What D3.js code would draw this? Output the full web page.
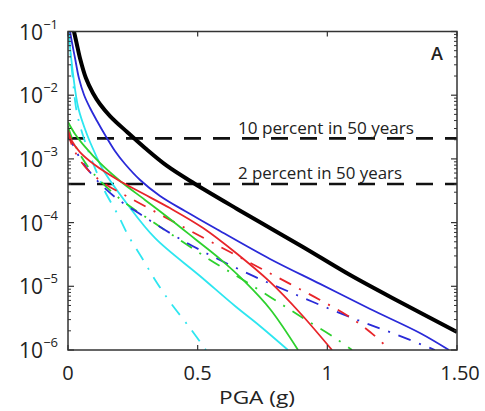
<!DOCTYPE html>
<html><head><meta charset="utf-8">
<script src="https://cdn.jsdelivr.net/npm/d3@7"></script>
<style>
html,body{margin:0;padding:0;background:#fff;}
svg{display:block;}
text{font-family:"Open Sans","Noto Sans",sans-serif;fill:#222;}
</style></head>
<body><svg id="c" width="485" height="411"></svg>
<script>
// ---- data (PGA in g, annual exceedance probability) ----
const blackX = [0.023,0.033,0.046,0.069,0.096,0.123,0.162,0.228,0.297,0.382,0.490,0.652,0.779,0.906,1.088,1.280,1.5];
const blackY = [0.1,0.066,0.0384,0.0186,0.01084,0.00728,0.00471,0.00264,0.00148,7.74e-4,4.04e-4,1.64e-4,8.22e-5,4.14e-5,1.50e-5,5.66e-6,1.92e-6];

const blueX = [0.008,0.015,0.027,0.042,0.062,0.085,0.112,0.143,0.181,0.220,0.278,0.355,0.451,0.586,0.779,0.972,1.165,1.357,1.469];
const blueY = [0.1,0.0684,0.0384,0.0186,0.01007,0.0063,0.00394,0.00237,0.00133,8.32e-4,4.67e-4,2.62e-4,1.52e-4,7.38e-5,2.69e-5,1.09e-5,4.40e-6,1.85e-6,1e-6];

const cyanX = [0.002,0.020,0.040,0.074,0.113,0.131,0.231,0.336,0.509,0.644,0.740,0.848];
const cyanY = [0.1,0.0207,0.00622,0.00237,0.00102,7.2e-4,1.89e-4,5.7e-5,1.45e-5,4.9e-6,2.38e-6,1e-6];

const cyanDashX = [0.002,0.017,0.036,0.077,0.126,0.143,0.193,0.231,0.290,0.336,0.393,0.470,0.532];
const cyanDashY = [0.1,0.0207,0.00489,0.00138,4.4e-4,3.05e-4,1.31e-4,6.4e-5,2.59e-5,1.26e-5,5.7e-6,2.22e-6,1e-6];

const redX = [0,0.015,0.046,0.104,0.193,0.278,0.393,0.521,0.648,0.779,0.895,1.018];
const redY = [0.00284,0.00191,0.00128,8.0e-4,4.67e-4,3.02e-4,1.69e-4,8.22e-5,3.33e-5,1.17e-5,3.81e-6,1e-6];

const greenX = [0,0.027,0.066,0.123,0.201,0.297,0.393,0.490,0.586,0.683,0.779,0.887];
const greenY = [0.00379,0.00246,0.00154,8.63e-4,4.5e-4,2.27e-4,1.14e-4,5.53e-5,2.69e-5,1.17e-5,4.40e-6,1e-6];

const greenDashX = [0,0.015,0.050,0.100,0.201,0.305,0.432,0.548,0.663,0.787,0.906,1.030,1.095];
const greenDashY = [0.00328,0.00213,0.00111,5.79e-4,2.35e-4,1.18e-4,5.33e-5,2.59e-5,1.35e-5,6.5e-6,3.18e-6,1.54e-6,1e-6];

const redDashX = [0,0.015,0.046,0.085,0.143,0.239,0.374,0.509,0.625,0.740,0.856,0.972,1.080,1.165,1.242];
const redDashY = [0.00264,0.00165,9.6e-4,6.2e-4,4.04e-4,2.43e-4,1.22e-4,6.16e-5,3.45e-5,1.94e-5,1.09e-5,6.1e-6,3.42e-6,1.92e-6,1e-6];

const blueDashX = [0,0.046,0.104,0.181,0.278,0.393,0.509,0.625,0.740,0.856,0.991,1.126,1.261,1.415];
const blueDashY = [0.00246,0.00103,5.0e-4,2.52e-4,1.36e-4,6.87e-5,3.72e-5,2.16e-5,1.30e-5,8.1e-6,4.73e-6,2.85e-6,1.78e-6,1e-6];

const hazardLevels = [0.0021, 0.000404];
const hazardLabels = ["10 percent in 50 years", "2 percent in 50 years"];

const xTickValues = [0, 0.5, 1, 1.5];
const xTickLabels = ["0", "0.5", "1", "1.50"];
const yExponents = [-1, -2, -3, -4, -5, -6];
const xTitle = "PGA (g)";
const panelLabel = "A";

// ---- layout ----
const svg = d3.select("#c");
const L = 68, R = 457, T = 31.5, B = 350;
const x = d3.scaleLinear().domain([0, 1.5]).range([L, R]);
const y = d3.scaleLog().domain([1e-6, 1e-1]).range([B, T]);

svg.append("defs").append("clipPath").attr("id","clip")
  .append("rect").attr("x",L).attr("y",T).attr("width",R-L).attr("height",B-T);

const series = [
  {xs: cyanDashX, ys: cyanDashY, color:"#2ee6f0", w:1.8, dash:"13,9,2,9"},
  {xs: cyanX, ys: cyanY, color:"#2ee6f0", w:1.8, dash:null},
  {xs: greenDashX, ys: greenDashY, color:"#2ed12e", w:1.8, dash:"13,9,2,9"},
  {xs: blueDashX, ys: blueDashY, color:"#2a2ad8", w:1.8, dash:"13,9,2,9"},
  {xs: redDashX, ys: redDashY, color:"#e8252a", w:1.8, dash:"13,9,2,9"},
  {xs: greenX, ys: greenY, color:"#2ed12e", w:1.8, dash:null},
  {xs: redX, ys: redY, color:"#e8252a", w:1.8, dash:null},
  {xs: blueX, ys: blueY, color:"#2a2ad8", w:1.8, dash:null},
  {xs: blackX, ys: blackY, color:"#000", w:4, dash:null}
];

const line = d3.line().x(d => x(d[0])).y(d => y(d[1])).curve(d3.curveCatmullRom.alpha(0.5));
const g = svg.append("g").attr("clip-path","url(#clip)");

// hazard dashed lines
hazardLevels.forEach(v => {
  g.append("line").attr("x1",L).attr("x2",R).attr("y1",y(v)).attr("y2",y(v))
    .attr("stroke","#111").attr("stroke-width",2.6).attr("stroke-dasharray","17,12");
});

series.forEach(s => {
  const pts = s.xs.map((v,i) => [v, s.ys[i]]);
  g.append("path").attr("d", line(pts)).attr("fill","none")
    .attr("stroke", s.color).attr("stroke-width", s.w)
    .attr("stroke-linejoin","round")
    .attr("stroke-dasharray", s.dash);
});

// hazard labels
hazardLabels.forEach((t,i) => {
  svg.append("text").attr("x", 238).attr("y", y(hazardLevels[i]) - 4.5)
    .attr("font-size", 15.5).attr("textLength", i===0?176:164).attr("lengthAdjust","spacingAndGlyphs")
    .text(t);
});

// axes box
const axisColor = "#333";
svg.append("rect").attr("x",L).attr("y",T).attr("width",R-L).attr("height",B-T)
  .attr("fill","none").attr("stroke",axisColor).attr("stroke-width",1.5);

// y ticks (major + minor) on both sides
const minor = [];
for (let e = -6; e < -1; e++) for (let m = 2; m <= 9; m++) minor.push(m * Math.pow(10, e));
yExponents.forEach(e => {
  const yy = y(Math.pow(10, e));
  svg.append("line").attr("x1",L).attr("x2",L+6).attr("y1",yy).attr("y2",yy).attr("stroke",axisColor).attr("stroke-width",1.2);
  svg.append("line").attr("x1",R).attr("x2",R-6).attr("y1",yy).attr("y2",yy).attr("stroke",axisColor).attr("stroke-width",1.2);
});
minor.forEach(v => {
  const yy = y(v);
  svg.append("line").attr("x1",L).attr("x2",L+3).attr("y1",yy).attr("y2",yy).attr("stroke",axisColor).attr("stroke-width",1);
  svg.append("line").attr("x1",R).attr("x2",R-3).attr("y1",yy).attr("y2",yy).attr("stroke",axisColor).attr("stroke-width",1);
});
// x ticks
xTickValues.forEach(v => {
  const xx = x(v);
  svg.append("line").attr("x1",xx).attr("x2",xx).attr("y1",B).attr("y2",B-5).attr("stroke",axisColor).attr("stroke-width",1.2);
  svg.append("line").attr("x1",xx).attr("x2",xx).attr("y1",T).attr("y2",T+5).attr("stroke",axisColor).attr("stroke-width",1.2);
});

// y tick labels
yExponents.forEach(e => {
  const yy = y(Math.pow(10, e));
  const t = svg.append("text").attr("x", 58).attr("y", yy + 8).attr("text-anchor","end").attr("font-size", 21);
  t.append("tspan").text("10");
  t.append("tspan").attr("dy", -11).attr("font-size", 13).text("\u2212" + Math.abs(e));
});

// x tick labels
xTickValues.forEach((v,i) => {
  svg.append("text").attr("x", x(v) + (i===3?3:0)).attr("y", 380).attr("text-anchor","middle")
    .attr("font-size", 20).text(xTickLabels[i]);
});

// x title
svg.append("text").attr("x", 257).attr("y", 404).attr("text-anchor","middle").attr("font-size",19)
  .attr("textLength", 76).attr("lengthAdjust","spacingAndGlyphs").text(xTitle);

// panel label
svg.append("text").attr("x", 437).attr("y", 60).attr("text-anchor","middle").attr("font-size",18).attr("font-weight","600").text(panelLabel);
</script></body></html>
